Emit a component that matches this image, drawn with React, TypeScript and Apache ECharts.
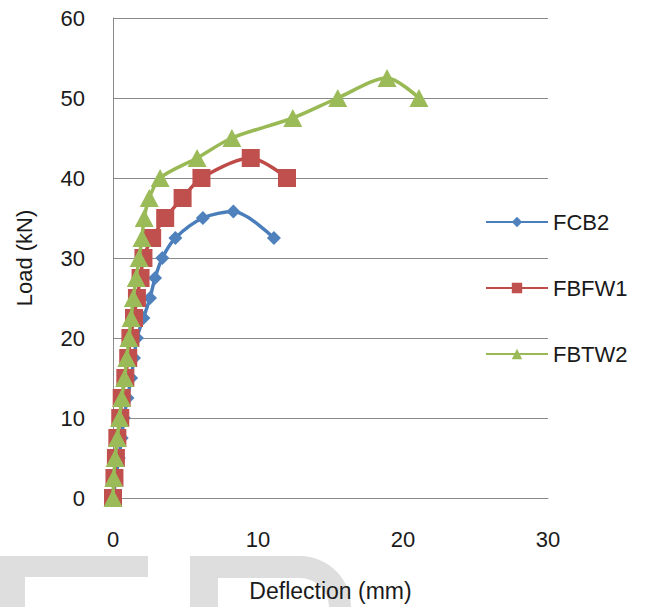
import React, { useEffect, useRef } from "react";
import * as echarts from "echarts";

// Deflection (mm) and Load (kN)
const fcb2X = [0, 0.2, 0.4, 0.6, 0.75, 1.0, 1.25, 1.45, 1.65, 2.1, 2.55, 2.9, 3.4, 4.3, 6.2, 8.3, 11.1];
const fcb2Y = [0, 2.5, 5, 7.5, 10, 12.5, 15, 17.5, 20, 22.5, 25, 27.5, 30, 32.5, 35, 35.8, 32.5];

const fbfw1X = [0, 0.1, 0.2, 0.3, 0.5, 0.6, 0.85, 1.05, 1.2, 1.45, 1.65, 1.9, 2.1, 2.7, 3.6, 4.8, 6.1, 9.5, 12.0];
const fbfw1Y = [0, 2.5, 5, 7.5, 10, 12.5, 15, 17.5, 20, 22.5, 25, 27.5, 30, 32.5, 35, 37.5, 40, 42.5, 40];

const fbtw2X = [0, 0.05, 0.15, 0.3, 0.45, 0.6, 0.8, 0.95, 1.1, 1.25, 1.4, 1.6, 1.8, 2.0, 2.15, 2.5, 3.25, 5.8, 8.2, 12.4, 15.5, 18.9, 21.1];
const fbtw2Y = [0, 2.5, 5, 7.5, 10, 12.5, 15, 17.5, 20, 22.5, 25, 27.5, 30, 32.5, 35, 37.5, 40, 42.5, 45, 47.5, 50, 52.5, 50];

const seriesNames = ["FCB2", "FBFW1", "FBTW2"];
const xTicks = [0, 10, 20, 30];
const yTicks = [0, 10, 20, 30, 40, 50, 60];

const zip = (xs: number[], ys: number[]) => xs.map((x, i) => [x, ys[i]]);

const FONT = "'Liberation Sans', Arial, sans-serif";
const GRID = "#8a8a8a";
const WM = "#dedede";

export default function App() {
  const ref = useRef<HTMLDivElement>(null);
  useEffect(() => {
    document.body.style.margin = "0";
    const chart = echarts.init(ref.current!, undefined, { renderer: "svg" });
    chart.setOption({
      animation: false,
      backgroundColor: "#ffffff",
      textStyle: { fontFamily: FONT },
      grid: { left: 113, right: 101, top: 18, bottom: 105, containLabel: false },
      graphic: [
        { type: "rect", z: -1, shape: { x: 0, y: 556, width: 148, height: 21 }, style: { fill: WM } },
        { type: "rect", z: -1, shape: { x: 0, y: 577, width: 25, height: 30 }, style: { fill: WM } },
        { type: "rect", z: -1, shape: { x: 190, y: 556, width: 28, height: 51 }, style: { fill: WM } },
        { type: "rect", z: -1, shape: { x: 218, y: 556, width: 82, height: 22 }, style: { fill: WM } },
        {
          type: "sector",
          z: -1,
          shape: { cx: 300, cy: 607, r: 51, r0: 29, startAngle: -Math.PI / 2, endAngle: 0, clockwise: true },
          style: { fill: WM },
        },
      ],
      legend: {
        orient: "vertical",
        left: 485,
        top: 211,
        padding: 0,
        itemWidth: 62,
        itemHeight: 13,
        itemGap: 44,
        data: seriesNames,
        textStyle: { fontSize: 22, color: "#1a1a1a", fontFamily: FONT },
      },
      xAxis: {
        type: "value",
        min: 0,
        max: 30,
        interval: 10,
        name: "Deflection (mm)",
        nameLocation: "middle",
        nameGap: 81,
        nameTextStyle: { fontSize: 23, color: "#1a1a1a", fontFamily: FONT },
        axisLine: { show: true, onZero: false, lineStyle: { color: GRID, width: 1 } },
        axisTick: { show: false },
        splitLine: { show: false },
        axisLabel: {
          margin: 30,
          fontSize: 22,
          color: "#1a1a1a",
          fontFamily: FONT,
          customValues: xTicks,
        },
      },
      yAxis: {
        type: "value",
        min: 0,
        max: 60,
        interval: 10,
        name: "Load (kN)",
        nameLocation: "middle",
        nameGap: 78,
        nameRotate: 90,
        nameTextStyle: { fontSize: 22, color: "#1a1a1a", fontFamily: FONT },
        axisLine: { show: true, lineStyle: { color: GRID, width: 1 } },
        axisTick: { show: false },
        splitLine: { show: true, lineStyle: { color: GRID, width: 1 } },
        axisLabel: {
          margin: 28,
          fontSize: 22,
          color: "#1a1a1a",
          fontFamily: FONT,
          customValues: yTicks,
        },
      },
      series: [
        {
          name: seriesNames[0],
          type: "line",
          smooth: 0.3,
          data: zip(fcb2X, fcb2Y),
          symbol: "diamond",
          symbolSize: 14,
          itemStyle: { color: "#4F81BD" },
          lineStyle: { color: "#4A7EBB", width: 3.5 },
          z: 2,
        },
        {
          name: seriesNames[1],
          type: "line",
          smooth: 0.3,
          data: zip(fbfw1X, fbfw1Y),
          symbol: "rect",
          symbolSize: 18,
          itemStyle: { color: "#C0504D" },
          lineStyle: { color: "#BE4B48", width: 3.5 },
          z: 3,
        },
        {
          name: seriesNames[2],
          type: "line",
          smooth: 0.3,
          data: zip(fbtw2X, fbtw2Y),
          symbol: "triangle",
          symbolSize: [19, 18],
          itemStyle: { color: "#9BBB59" },
          lineStyle: { color: "#98B954", width: 3.5 },
          z: 4,
        },
      ],
    });
    return () => chart.dispose();
  }, []);
  return (
    <div
      ref={ref}
      style={{ position: "fixed", left: 0, top: 0, width: 649, height: 607, background: "#fff" }}
    />
  );
}
